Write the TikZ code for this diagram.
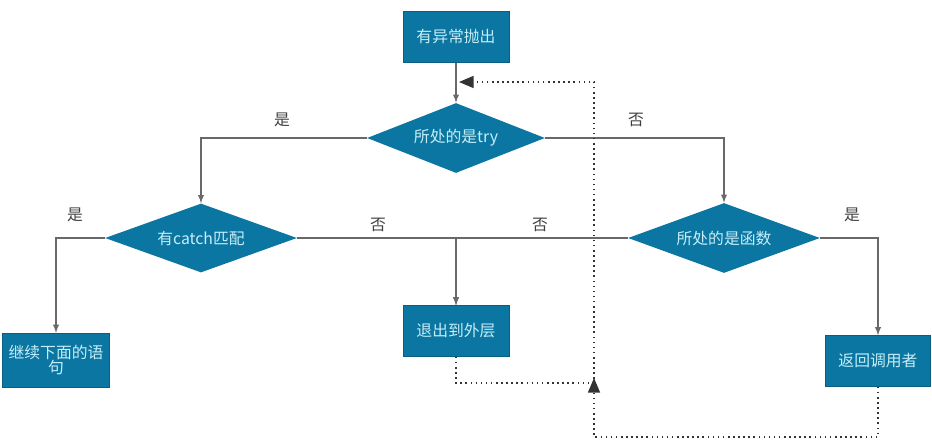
\documentclass[tikz,border=0pt]{standalone}
\usepackage{fontspec}
\setmainfont{Noto Sans CJK SC}
\usepackage{tikz}
\usetikzlibrary{arrows,shapes.geometric}
\usepackage{xcolor}

\definecolor{boxblue}{RGB}{12,118,162}
\definecolor{boxtext}{RGB}{196,238,248}
\definecolor{linegray}{RGB}{105,105,105}

\tikzset{
  stepbox/.style={rectangle,fill=boxblue,draw=boxblue!80!black,line width=0.3pt,text=boxtext,minimum width=2.12cm,minimum height=1.02cm,align=center,font=\fontsize{9}{11}\selectfont},
  choice/.style={diamond,fill=boxblue,text=boxtext,inner sep=0pt,shape aspect=2.6,font=\fontsize{9}{11}\selectfont},
  flow/.style={draw=linegray,line width=0.6pt,-latex},
  back/.style={draw=black!80,line width=0.9pt,dotted,-triangle 45},
  answer/.style={text=black!75,font=\fontsize{9}{11}\selectfont}
}

\begin{document}
\begin{tikzpicture}[x=0.02cm,y=-0.02cm]
\useasboundingbox (0,0) rectangle (932,442);

\node[stepbox] (throw) at (456,37) {有异常抛出};

\node[choice,minimum width=3.56cm,minimum height=1.4cm] (istry) at (456,138) {所处的是try};

\node[choice,minimum width=3.84cm,minimum height=1.38cm] (hascatch) at (201,238) {有catch匹配};

\node[choice,minimum width=3.84cm,minimum height=1.4cm] (isfunc) at (724,238) {所处的是函数};

\node[stepbox,minimum height=1.08cm] (next) at (56,360) {继续下面的语\\[-2pt]句};

\node[stepbox] (exitouter) at (456,331) {退出到外层};

\node[stepbox,minimum width=2.1cm] (retcaller) at (878,361) {返回调用者};

% yes / no
\node[answer] (lyestry) at (282,120) {是};
\node[answer] (lnotry) at (636,120) {否};
\node[answer] (lyescatch) at (75,215) {是};
\node[answer] (lnocatch) at (378,225) {否};
\node[answer] (lnofunc) at (540,225) {否};
\node[answer] (lyesfunc) at (852,215) {是};

\draw[flow] (throw) -- (istry);

\draw[flow] (istry.west) -| (hascatch.north);

\draw[flow] (istry.east) -| (isfunc.north);

\draw[flow] (hascatch.west) -| (next.north);

\draw[flow] (hascatch.east) -| (exitouter.north);

\draw[flow] (isfunc.west) -| (exitouter.north);

\draw[flow] (isfunc.east) -| (retcaller.north);

% dotted way back up
\coordinate (meet) at (594,383);
\coordinate (meetup) at (594,378);
\coordinate (downleft) at (594,437);
\coordinate (upright) at (594,82);
\coordinate (entry) at (459,82);

\draw[back] (exitouter.south) |- (meet) -- (meetup);

\draw[back] (retcaller.south) |- (downleft) -- (upright) -- (entry);

\end{tikzpicture}
\end{document}
